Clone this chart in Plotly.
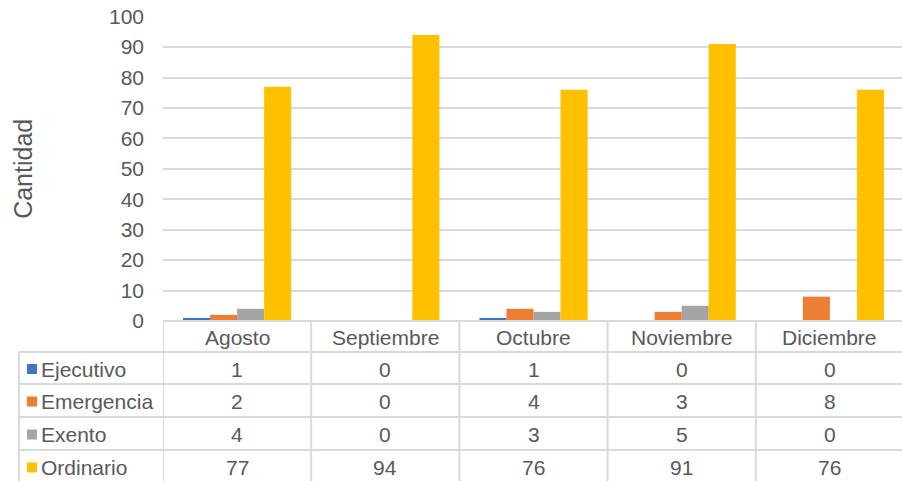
import plotly.graph_objects as go

months = ["Agosto", "Septiembre", "Octubre", "Noviembre", "Diciembre"]
series_names = ["Ejecutivo", "Emergencia", "Exento", "Ordinario"]
ejecutivo = [1, 0, 1, 0, 0]
emergencia = [2, 0, 4, 3, 8]
exento = [4, 0, 3, 5, 0]
ordinario = [77, 94, 76, 91, 76]
colors = ["#4472C4", "#ED7D31", "#A5A5A5", "#FFC000"]
y_ticks = list(range(0, 101, 10))

series_values = [ejecutivo, emergencia, exento, ordinario]

W, H = 902, 481
FONT = "Liberation Sans, Arial, sans-serif"
TXT = "#595959"
GRID = "#D9D9D9"
FS = 21

# layout pixels
plot_left = 163
cat_w = 148.2
y_bottom_px = 321
y_top_px = 16.7
row_px = [321, 352, 384, 417, 450, 483]
label_left_px = 19

def py(px):
    return 1 - px / H

def pxx(px):
    return px / W

fig = go.Figure()
for name, vals, c in zip(series_names, series_values, colors):
    fig.add_trace(go.Bar(x=list(range(len(months))), y=vals, name=name,
                         marker=dict(color=c, line=dict(width=0)),
                         showlegend=False, hoverinfo="y"))

n = len(months)
x_right = -0.5 + (W - plot_left) / cat_w

shapes = []
annotations = []
# horizontal table lines
for i, r in enumerate(row_px[:-1]):
    x0 = plot_left if i == 0 else label_left_px
    shapes.append(dict(type="line", xref="paper", yref="paper",
                       x0=pxx(x0), x1=1, y0=py(r), y1=py(r),
                       line=dict(color=GRID, width=2)))
# vertical table lines
shapes.append(dict(type="line", xref="paper", yref="paper",
                   x0=pxx(label_left_px), x1=pxx(label_left_px),
                   y0=py(row_px[1]), y1=0, line=dict(color=GRID, width=2)))
for k in range(n + 1):
    shapes.append(dict(type="line", xref="x", yref="paper",
                       x0=k - 0.5, x1=k - 0.5, y0=py(row_px[0]), y1=0,
                       line=dict(color=GRID, width=2)))

# header labels
hc = (row_px[0] + row_px[1]) / 2 + 1
for k, m in enumerate(months):
    annotations.append(dict(x=k, y=py(hc), xref="x", yref="paper", text=m,
                            showarrow=False, font=dict(size=FS, color=TXT, family=FONT),
                            xanchor="center", yanchor="middle"))
# rows
for j, (name, vals, c) in enumerate(zip(series_names, series_values, colors)):
    rc = (row_px[j + 1] + row_px[j + 2]) / 2 + 1
    shapes.append(dict(type="rect", xref="paper", yref="paper",
                       x0=pxx(27), x1=pxx(37), y0=py(rc - 5), y1=py(rc + 5),
                       fillcolor=c, line=dict(width=0)))
    annotations.append(dict(x=pxx(39), y=py(rc), xref="paper", yref="paper", text=name,
                            showarrow=False, font=dict(size=FS, color=TXT, family=FONT),
                            xanchor="left", yanchor="middle"))
    for k, v in enumerate(vals):
        annotations.append(dict(x=k, y=py(rc), xref="x", yref="paper", text=str(v),
                                showarrow=False, font=dict(size=FS, color=TXT, family=FONT),
                                xanchor="center", yanchor="middle"))

annotations.append(dict(x=pxx(23), y=py((y_top_px + y_bottom_px) / 2), xref="paper", yref="paper",
                        text="Cantidad", textangle=-90, showarrow=False,
                        font=dict(size=25, color=TXT, family=FONT),
                        xanchor="center", yanchor="middle"))

fig.update_layout(
    template="none",
    width=W, height=H,
    margin=dict(l=0, r=0, t=0, b=0, pad=0),
    paper_bgcolor="white", plot_bgcolor="white",
    barmode="group", bargap=0.27, bargroupgap=0,
    font=dict(family=FONT, color=TXT),
    xaxis=dict(domain=[pxx(plot_left), 1], range=[-0.5, x_right], automargin=False,
               showticklabels=False, showgrid=False, zeroline=False, showline=False,
               ticks="", fixedrange=True),
    yaxis=dict(domain=[py(y_bottom_px), py(y_top_px)], range=[0, 100], automargin=False,
               tickvals=y_ticks, showgrid=True, gridcolor=GRID, gridwidth=2,
               zeroline=False, showline=False, tickfont=dict(size=FS, color=TXT, family=FONT),
               ticks="", ticklabelstandoff=18, fixedrange=True),
    shapes=shapes, annotations=annotations,
)

fig.write_html("out.html", config={"displayModeBar": False},
               post_script="document.body.style.margin='0';document.body.style.overflow='hidden';")
